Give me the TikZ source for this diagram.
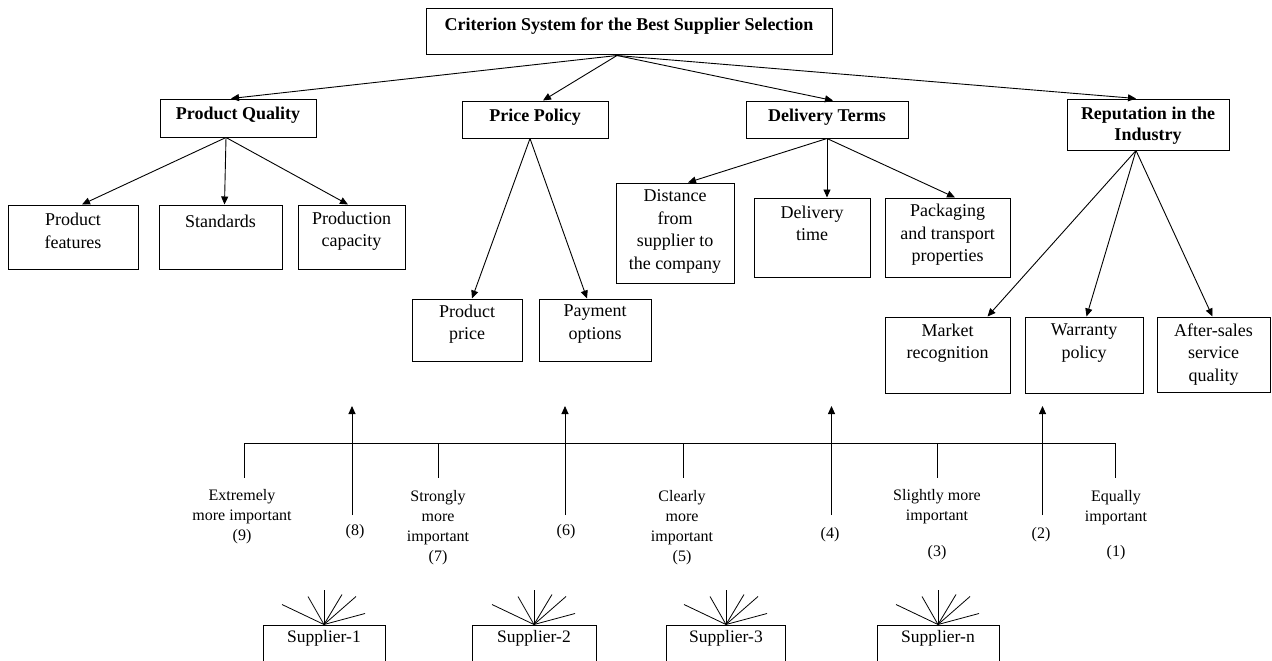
\documentclass[tikz,border=0pt]{standalone}
\usepackage{fontspec}
\setmainfont{Liberation Serif}
\usetikzlibrary{arrows.meta}
\begin{document}
\begin{tikzpicture}[x=1pt,y=-1pt,
 box/.style={draw, line width=1pt, inner sep=0pt, rectangle},
 txt/.style={font=\fontsize{18}{22.5}\selectfont, align=center, inner sep=0pt},
 btxt/.style={font=\fontsize{18}{21}\selectfont\bfseries, align=center, inner sep=0pt},
 stxt/.style={font=\fontsize{16}{20}\selectfont, align=center, inner sep=0pt},
 suptxt/.style={font=\fontsize{17.5}{21}\selectfont, align=center, inner sep=0pt},
 arr/.style={-{Triangle[length=8pt,width=7pt]}, line width=0.9pt},
 ln/.style={line width=1pt}]
\clip (0,0) rectangle (1272,661);
\fill[white] (0,0) rectangle (1272,661);

% root
\node[box, minimum width=406pt, minimum height=46pt, label={[btxt,yshift=6pt]center:{Criterion System for the Best Supplier Selection}}] (root) at (629,32) {};

% level 1
\node[box, minimum width=156pt, minimum height=38pt, label={[btxt,yshift=3pt]center:{Product Quality}}] (pq) at (238,118) {};
\node[box, minimum width=146pt, minimum height=37pt, label={[btxt,yshift=2.5pt]center:{Price Policy}}] (pp) at (535,119.5) {};
\node[box, minimum width=162pt, minimum height=37pt, label={[btxt,yshift=2.5pt]center:{Delivery Terms}}] (dt) at (827,119.5) {};
\node[box, minimum width=162pt, minimum height=51pt, label={[btxt,yshift=-1pt]center:{Reputation in the\\Industry}}] (rep) at (1148,124.5) {};

% level 2
\node[box, minimum width=130pt, minimum height=64pt, label={[txt,yshift=6pt]center:{Product\\features}}] (pf) at (73,237) {};
\node[box, minimum width=123pt, minimum height=64pt, label={[txt,yshift=16pt]center:{Standards}}] (std) at (220.5,237) {};
\node[box, minimum width=107pt, minimum height=64pt, label={[txt,yshift=6pt]center:{Production\\capacity}}] (pc) at (351.5,237) {};
\node[box, minimum width=110pt, minimum height=62pt, label={[txt,yshift=6pt]center:{Product\\price}}] (ppr) at (467,330) {};
\node[box, minimum width=112pt, minimum height=62pt, label={[txt,yshift=6pt]center:{Payment\\options}}] (po) at (595,330) {};
\node[box, minimum width=118pt, minimum height=100pt, label={[txt,yshift=1.5pt]center:{Distance\\from\\supplier to\\the company}}] (dist) at (675,233) {};
\node[box, minimum width=116pt, minimum height=79pt, label={[txt,yshift=14pt]center:{Delivery\\time}}] (dtime) at (812,237.5) {};
\node[box, minimum width=125pt, minimum height=79pt, label={[txt,yshift=2.5pt]center:{Packaging\\and transport\\properties}}] (pack) at (947.5,237.5) {};
\node[box, minimum width=125pt, minimum height=76pt, label={[txt,yshift=12pt]center:{Market\\recognition}}] (mr) at (947.5,355) {};
\node[box, minimum width=118pt, minimum height=76pt, label={[txt,yshift=12pt]center:{Warranty\\policy}}] (wp) at (1084,355) {};
\node[box, minimum width=113pt, minimum height=75pt, label={[txt,yshift=0pt]center:{After-sales\\service\\quality}}] (as) at (1213.5,354.5) {};

% root arrows
\coordinate (rs) at ([xshift=-12pt]root.south);
\draw[arr] (rs) -- ([xshift=-7pt]pq.north);
\draw[arr] (rs) -- ([xshift=8pt]pp.north);
\draw[arr] (rs) -- ([xshift=6pt]dt.north);
\draw[arr] (rs) -- ([xshift=-12pt]rep.north);

% product quality
\coordinate (pqs) at ([xshift=-12pt]pq.south);
\draw[arr] (pqs) -- ([xshift=9pt]pf.north);
\draw[arr] (pqs) -- ([xshift=4pt]std.north);
\draw[arr] (pqs) -- ([xshift=-3.5pt]pc.north);

% price policy
\coordinate (pps) at ([xshift=-5pt]pp.south);
\draw[arr] (pps) -- ([xshift=5pt]ppr.north);
\draw[arr] (pps) -- ([xshift=-8pt]po.north);

% delivery terms
\coordinate (dts) at (dt.south);
\draw[arr] (dts) -- ([xshift=13pt]dist.north);
\draw[arr] (dts) -- ([xshift=15pt]dtime.north);
\draw[arr] (dts) -- ([xshift=7.5pt]pack.north);

% reputation
\coordinate (reps) at ([xshift=-12pt]rep.south);
\draw[arr] (reps) -- ([xshift=40pt]mr.north);
\draw[arr] (reps) -- ([xshift=2.5pt]wp.north);
\draw[arr] (reps) -- ([xshift=-1pt]as.north);

% scale bar
\draw[ln] (244,443) -- (1115,443);
\foreach \x in {244,438,683,937,1115} \draw[ln] (\x,443) -- (\x,478);

% scale labels
\node[stxt] (s9) at (242,517) {Extremely\\more important\\(9)};
\node[stxt] (s7) at (438,527.5) {Strongly\\more\\important\\(7)};
\node[stxt] (s5) at (682,527.5) {Clearly\\more\\important\\(5)};
\node[stxt] (s3) at (937,525) {Slightly more\\important\\[16pt](3)};
\node[stxt] (s1) at (1116,525.5) {Equally\\important\\[15pt](1)};
\node[stxt] (s8) at (355,532) {(8)};
\node[stxt] (s6) at (566,532) {(6)};
\node[stxt] (s4) at (830,535) {(4)};
\node[stxt] (s2) at (1041,535) {(2)};

% up arrows
\draw[arr] (352,515) -- (352,406);
\draw[arr] (565,515) -- (565,406);
\draw[arr] (831.5,515) -- (831.5,406);
\draw[arr] (1042.5,515) -- (1042.5,406);

% suppliers
\node[box, minimum width=122pt, minimum height=46pt, label={[suptxt,yshift=10pt]center:{Supplier-1}}] (sp1) at (324,648) {};
\node[box, minimum width=124pt, minimum height=46pt, label={[suptxt,yshift=10pt]center:{Supplier-2}}] (sp2) at (534,648) {};
\node[box, minimum width=119pt, minimum height=46pt, label={[suptxt,yshift=10pt]center:{Supplier-3}}] (sp3) at (726,648) {};
\node[box, minimum width=122pt, minimum height=46pt, label={[suptxt,yshift=10pt]center:{Supplier-n}}] (spn) at (938,648) {};

\foreach \s in {sp1,sp2,sp3,spn}{
  \draw[line width=0.8pt] (\s.north) -- ++(-42,-20);
  \draw[line width=0.8pt] (\s.north) -- ++(-16,-28);
  \draw[line width=0.8pt] (\s.north) -- ++(0,-35);
  \draw[line width=0.8pt] (\s.north) -- ++(18,-30);
  \draw[line width=0.8pt] (\s.north) -- ++(32,-28);
  \draw[line width=0.8pt] (\s.north) -- ++(41,-11);
}
\end{tikzpicture}
\end{document}
